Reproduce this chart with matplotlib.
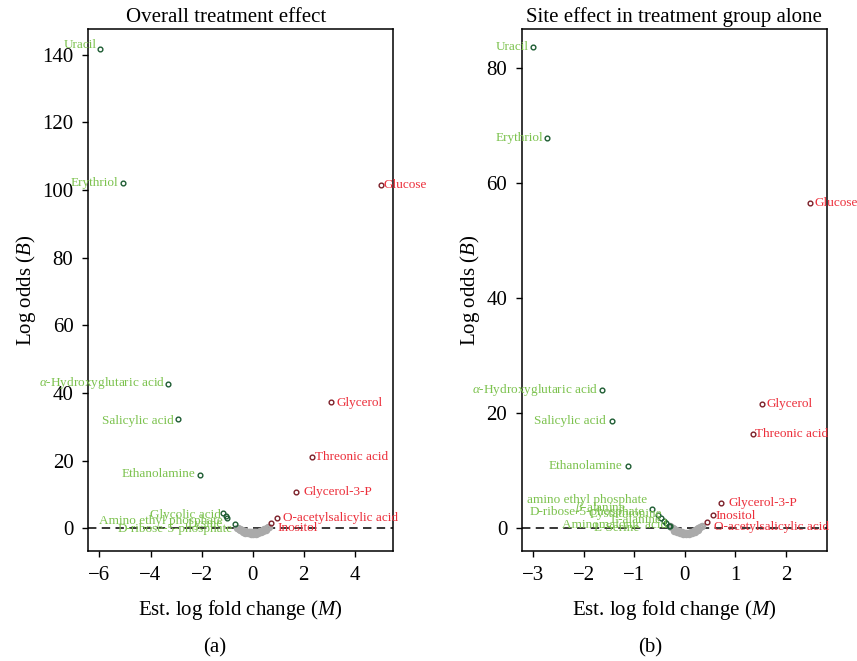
import matplotlib.pyplot as plt

plt.rcParams['font.family'] = 'Liberation Serif'
plt.rcParams['mathtext.fontset'] = 'custom'
plt.rcParams['mathtext.rm'] = 'Liberation Serif'
plt.rcParams['mathtext.it'] = 'Liberation Serif:italic'
plt.rcParams.update({'font.size': 15})

# (a) Overall treatment effect
a_green_names = ['Uracil', 'Erythriol', r'$\alpha$-Hydroxyglutaric acid', 'Salicylic acid', 'Ethanolamine',
                 'Glycolic acid', 'Amino ethyl phosphate', 'Lysine', 'D-ribose-5-phosphate']
a_green_m = [-5.98, -5.08, -3.32, -2.93, -2.07, -1.16, -1.06, -0.99, -0.68]
a_green_b = [141.8, 102.0, 42.6, 32.4, 15.9, 4.6, 3.8, 3.2, 1.2]
a_red_names = ['Glucose', 'Glycerol', 'Threonic acid', 'Glycerol-3-P', 'O-acetylsalicylic acid', 'Inositol']
a_red_m = [5.01, 3.08, 2.33, 1.68, 0.97, 0.73]
a_red_b = [101.5, 37.4, 21.0, 10.7, 3.2, 1.5]
a_grey_m = [-0.62, -0.58, -0.55, -0.50, -0.45, -0.40, -0.35, -0.30, -0.25, -0.20, -0.15, -0.10, -0.05,
            0.00, 0.05, 0.10, 0.15, 0.20, 0.25, 0.30, 0.35, 0.40, 0.45, 0.50, 0.55, 0.60, 0.63,
            -0.48, -0.38, -0.28, -0.18, -0.08, 0.02, 0.12, 0.22, 0.32, 0.42, 0.52]
a_grey_b = [0.2, 0.0, -0.1, -0.3, -0.45, -0.6, -0.7, -0.8, -0.9, -1.0, -1.05, -1.1, -1.15,
            -1.15, -1.15, -1.1, -1.05, -1.0, -0.9, -0.8, -0.65, -0.5, -0.3, -0.1, 0.1, 0.35, 0.55,
            -0.6, -0.9, -1.2, -1.4, -1.6, -1.6, -1.5, -1.35, -1.1, -0.8, -0.4]

# (b) Site effect in treatment group alone
b_green_names = ['Uracil', 'Erythriol', r'$\alpha$-Hydroxyglutaric acid', 'Salicylic acid', 'Ethanolamine',
                 'amino ethyl phosphate', 'D-ribose-5-phosphate', r'$\beta$-alanine', 'Cystathionine',
                 'L-alanine', 'Aminomalonic acid', 'L-Serine']
b_green_m = [-3.00, -2.73, -1.64, -1.44, -1.12, -0.65, -0.53, -0.48, -0.42, -0.38, -0.32, -0.30]
b_green_b = [83.6, 67.9, 24.0, 18.6, 10.8, 3.26, 2.26, 1.69, 1.22, 0.82, 0.40, 0.25]
b_red_names = ['Glucose', 'Glycerol', 'Threonic acid', 'Glycerol-3-P', 'Inositol', 'O-acetylsalicylic acid']
b_red_m = [2.48, 1.53, 1.35, 0.72, 0.55, 0.44]
b_red_b = [56.6, 21.6, 16.4, 4.4, 2.3, 1.1]
b_grey_m = [-0.30, -0.27, -0.24, -0.21, -0.18, -0.15, -0.12, -0.09, -0.06, -0.03, 0.00, 0.03,
            0.06, 0.09, 0.12, 0.15, 0.18, 0.21, 0.24, 0.27, 0.30, 0.33,
            -0.22, -0.16, -0.10, -0.04, 0.02, 0.08, 0.14, 0.20, 0.26]
b_grey_b = [0.3, 0.1, -0.1, -0.25, -0.4, -0.5, -0.6, -0.7, -0.75, -0.8, -0.85, -0.85,
            -0.85, -0.8, -0.75, -0.65, -0.55, -0.4, -0.25, -0.1, 0.1, 0.3,
            -0.5, -0.75, -0.95, -1.05, -1.1, -1.05, -0.95, -0.7, -0.4]

# label nudges in pixels (layout only)
a_green_off = [(-3, 4), (-5, 0), (-3, 1), (-4, -2), (-4, 1), (-2, -2), (-3, -5), (-5, -6), (-3, -5)]
a_red_off = [(3, 0), (5, -1), (3, 0), (8, 0), (6, 0), (6, -5)]
b_green_off = [(-5, 0), (-4, 0), (-4, 0), (-6, 0), (-6, 0), (-5, 9), (-13, 3), (-35, 10), (-2, 7),
               (-4, 3), (-2, 1), (-30, -2)]
b_red_off = [(4, 0), (4, 0), (2, 0), (7, 0), (3, -1), (7, -5)]

green_txt = '#7cc24e'
green_pt = '#1d5c32'
red_txt = '#ec2f3b'
red_pt = '#7b1f28'
grey_pt = '#aaaaaa'


def volcano(ax, title, title_x, green, red, grey, xlim, ylim, xticks, yticks):
    ax.axhline(0, color='black', linestyle=(0, (5.5, 3.5)), lw=1.1, zorder=1)
    ax.plot(grey[0], grey[1], 'o', ms=3.8, mfc='none', mec=grey_pt, mew=1.6, zorder=2)
    for (names, m, b, off), pc, tc, ha in [(green, green_pt, green_txt, 'right'), (red, red_pt, red_txt, 'left')]:
        ax.plot(m, b, 'o', ms=3.4, mfc='none', mec=pc, mew=1.0, zorder=3)
        for i in range(len(names)):
            ax.annotate(names[i], (m[i], b[i]), xytext=off[i], textcoords='offset pixels',
                        ha=ha, va='center', fontsize=9.5, color=tc, annotation_clip=False)
    ax.set_xlim(xlim)
    ax.set_ylim(ylim)
    ax.set_xticks(xticks)
    ax.set_yticks(yticks)
    ax.tick_params(direction='out', length=4.5, width=1, pad=6, labelsize=15)
    for s in ax.spines.values():
        s.set_linewidth(1.1)
    ax.set_title(title, x=title_x, pad=5, fontsize=15)
    ax.set_xlabel('Est. log fold change ($M$)', labelpad=9)
    ax.set_ylabel('Log odds ($B$)', labelpad=3)


fig = plt.figure(figsize=(8.57, 6.61), dpi=100)
ax1 = fig.add_axes([0.1027, 0.1657, 0.3559, 0.7903])
ax2 = fig.add_axes([0.6088, 0.1657, 0.3559, 0.7903])

volcano(ax1, 'Overall treatment effect', 0.452,
        (a_green_names, a_green_m, a_green_b, a_green_off),
        (a_red_names, a_red_m, a_red_b, a_red_off),
        (a_grey_m, a_grey_b),
        (-6.45, 5.5), (-6.8, 147.6), [-6, -4, -2, 0, 2, 4], [0, 20, 40, 60, 80, 100, 120, 140])
volcano(ax2, 'Site effect in treatment group alone', 0.5,
        (b_green_names, b_green_m, b_green_b, b_green_off),
        (b_red_names, b_red_m, b_red_b, b_red_off),
        (b_grey_m, b_grey_b),
        (-3.23, 2.81), (-4.1, 86.8), [-3, -2, -1, 0, 1, 2], [0, 20, 40, 60, 80])

fig.text(215 / 857, 1 - 648 / 661, '(a)', ha='center', va='center', fontsize=15)
fig.text(650 / 857, 1 - 648 / 661, '(b)', ha='center', va='center', fontsize=15)

plt.savefig('out.png', dpi=100)
plt.close()
